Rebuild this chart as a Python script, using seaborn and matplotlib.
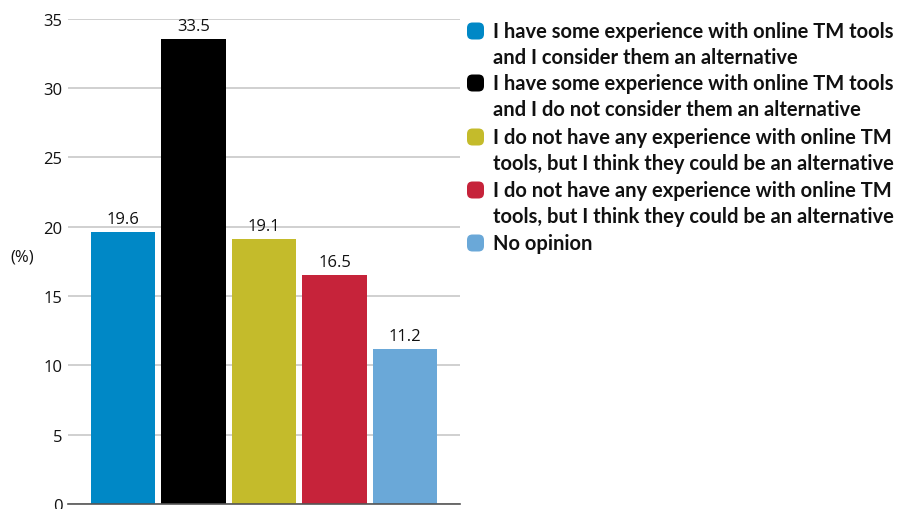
import matplotlib
matplotlib.use("Agg")
import matplotlib.pyplot as plt
from matplotlib.patches import FancyBboxPatch
import seaborn as sns
import pandas as pd

answers = [
    "I have some experience with online TM tools\nand I consider them an alternative",
    "I have some experience with online TM tools\nand I do not consider them an alternative",
    "I do not have any experience with online TM\ntools, but I think they could be an alternative",
    "I do not have any experience with online TM\ntools, but I think they could be an alternative ",
    "No opinion",
]
shares = [19.6, 33.5, 19.1, 16.5, 11.2]
colors = ["#0088c6", "#000000", "#c4bb2b", "#c6233a", "#6aa8d8"]
yticks = [0, 5, 10, 15, 20, 25, 30, 35]

df = pd.DataFrame({"answer": answers, "share": shares})

sns.set_theme(style="white")
plt.rcParams["font.family"] = ["Open Sans", "DejaVu Sans"]

W, H = 905, 510
fig = plt.figure(figsize=(W / 100, H / 100), dpi=100)
ax = fig.add_axes([68 / W, 5 / H, (460 - 68) / W, (505 - 19.5) / H])

sns.barplot(data=df, x="answer", y="share", hue="answer", palette=colors,
            order=answers, hue_order=answers, width=0.91, legend=False,
            saturation=1, ax=ax, zorder=3, linewidth=0)

ax.set_ylim(0, 35)
ax.set_xlim(-0.78, 4.78)
ax.set_yticks(yticks)
ax.set_yticklabels([str(t) for t in yticks], fontsize=12, color="#111111")
ax.set_xticks([])
ax.set_xlabel("")
ax.set_ylabel("")
ax.yaxis.grid(True, color="#c8c8c8", linewidth=1.2, zorder=0)
ax.tick_params(axis="y", length=0, pad=4)
for s in ["left", "right", "top"]:
    ax.spines[s].set_visible(False)
ax.spines["bottom"].set_color("#555555")
ax.spines["bottom"].set_linewidth(1.2)
ax.spines["bottom"].set_zorder(4)

for p, v in zip(ax.patches, shares):
    ax.text(p.get_x() + p.get_width() / 2, v + 0.35, f"{v}", ha="center",
            va="bottom", fontsize=12, color="#111111")

fig.text(10 / W, 1 - 258 / H, "(%)", fontsize=12, va="center", ha="left",
         color="#111111")

# Legend: rounded colour keys with wrapped bold labels
line_pitch = 26
entry_tops = [32, 84, 138, 191, 244]
for top, label, color in zip(entry_tops, answers, colors):
    key = FancyBboxPatch((467 / W, 1 - (top + 8.5) / H), 17 / W, 17 / H,
                         boxstyle="round,pad=0,rounding_size=0.006",
                         mutation_aspect=W / H,
                         transform=fig.transFigure, facecolor=color,
                         edgecolor="none")
    fig.add_artist(key)
    for i, line in enumerate(label.strip().split("\n")):
        fig.text(493 / W, 1 - (top + i * line_pitch) / H, line,
                 family=["Lato", "DejaVu Sans"], weight="bold", size=14.5,
                 va="center", ha="left", color="#111111")

fig.savefig("out.png", dpi=100)
